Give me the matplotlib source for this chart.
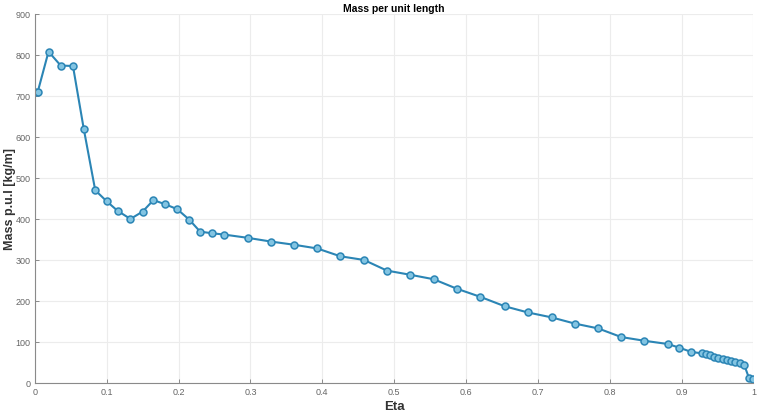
import matplotlib
matplotlib.use('Agg')
import matplotlib.pyplot as plt

plt.rcParams['font.family'] = ['Liberation Sans', 'DejaVu Sans']

# spanwise station (eta) and mass per unit length along the blade
eta = [0.0, 0.004, 0.019, 0.036, 0.053, 0.068, 0.084, 0.100, 0.115, 0.133,
       0.150, 0.165, 0.181, 0.198, 0.215, 0.230, 0.247, 0.263, 0.296, 0.328,
       0.361, 0.393, 0.425, 0.458, 0.490, 0.522, 0.555, 0.587, 0.620, 0.654,
       0.686, 0.719, 0.751, 0.784, 0.816, 0.848, 0.881, 0.897, 0.913, 0.929,
       0.934, 0.940, 0.945, 0.951, 0.957, 0.963, 0.969, 0.975, 0.981, 0.987,
       0.994, 1.0]
mass = [710, 710, 808, 774, 773, 620, 470, 443, 420, 400,
        418, 446, 436, 424, 398, 369, 365, 362, 354, 345,
        337, 328, 309, 300, 274, 264, 253, 230, 210, 187,
        172, 160, 145, 133, 112, 103, 95, 86, 76, 72,
        70, 68, 64, 61, 58, 56, 53, 51, 48, 45,
        11, 10]

xticks = [0, 0.1, 0.2, 0.3, 0.4, 0.5, 0.6, 0.7, 0.8, 0.9, 1]
xtick_labels = ['0', '0.1', '0.2', '0.3', '0.4', '0.5', '0.6', '0.7', '0.8', '0.9', '1']
yticks = [0, 100, 200, 300, 400, 500, 600, 700, 800, 900]

fig = plt.figure(figsize=(7.58, 4.14), dpi=100)
ax = fig.add_axes([0.046, 0.0725, 0.948, 0.8915])

ax.plot(eta, mass, color='#2b85b5', lw=1.5, marker='o', ms=5,
        mfc='#82c4e2', mec='#2b85b5', mew=1.1)

ax.set_xlim(0, 1)
ax.set_ylim(0, 900)
ax.set_xticks(xticks)
ax.set_xticklabels(xtick_labels)
ax.set_yticks(yticks)
ax.grid(True, color='#ececec', lw=0.8)
ax.set_axisbelow(True)

for s in ['top', 'right']:
    ax.spines[s].set_visible(False)
for s in ['left', 'bottom']:
    ax.spines[s].set_color('#8a8a8a')
    ax.spines[s].set_linewidth(0.8)

ax.tick_params(direction='in', length=3, width=0.7, colors='#8a8a8a',
               labelsize=6.5, labelcolor='#666666', pad=3)

ax.set_title('Mass per unit length', fontsize=7.5, fontweight='bold', pad=2)
ax.set_xlabel('Eta', fontsize=9.5, fontweight='bold', color='#333333', labelpad=3)
ax.set_ylabel('Mass p.u.l [kg/m]', fontsize=9, fontweight='bold', color='#333333', labelpad=0)

fig.savefig('out.png', dpi=100)
